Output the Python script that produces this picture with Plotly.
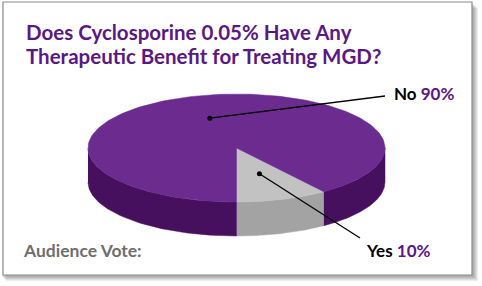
import numpy as np
import plotly.graph_objects as go

# ---------------- data ----------------
categories = ["Yes", "No"]
values = [10, 90]
pct_labels = ["10%", "90%"]
title_lines = ["Does Cyclosporine 0.05% Have Any",
               "Therapeutic Benefit for Treating MGD?"]
footer_text = "Audience Vote:"

# ---------------- styles ----------------
W, H = 482, 286
PURPLE_TXT = "#5a1786"
top_colors = {"Yes": "#c2c2c2", "No": "#6b2b8f"}
side_colors = {"Yes": "#a3a3a3", "No": "#47105f"}
FONT = "Lato"

# pie geometry (pixel space)
CX, CY, RA, RB, DEPTH = 236.5, 148, 148.5, 54, 34
dot_r = {"Yes": 0.5, "No": 0.58}
label_end = {"No": (385, 96), "Yes": (360, 238)}
label_pos = {"No": (392, 93), "Yes": (364, 250)}


def pt(phi_deg, r=1.0):
    p = np.radians(phi_deg)
    return CX + RA * r * np.sin(p), CY + RB * r * np.cos(p)


fig = go.Figure()

total = float(sum(values))
slices = []
start = 0.0
for cat, v in zip(categories, values):
    span = v / total * 360.0
    slices.append((cat, start, start + span))
    start += span

# side walls (front half only)
for cat, a0, a1 in slices:
    for f0, f1 in [(-90, 90), (270, 450)]:
        s, e = max(a0, f0), min(a1, f1)
        if e <= s:
            continue
        ph = np.linspace(s, e, 80)
        xs, ys = pt(ph)
        px = np.concatenate([xs, xs[::-1]])
        py = np.concatenate([ys, (ys + DEPTH)[::-1]])
        fig.add_trace(go.Scatter(x=px, y=py, mode="lines", fill="toself",
                                 fillcolor=side_colors[cat],
                                 line=dict(color=side_colors[cat], width=0.5),
                                 hoverinfo="skip", showlegend=False))

# top faces
for cat, a0, a1 in slices:
    ph = np.linspace(a0, a1, 200)
    xs, ys = pt(ph)
    px = np.concatenate([[CX], xs, [CX]])
    py = np.concatenate([[CY], ys, [CY]])
    fig.add_trace(go.Scatter(x=px, y=py, mode="lines", fill="toself",
                             fillcolor=top_colors[cat],
                             line=dict(color=top_colors[cat], width=0.5),
                             hoverinfo="skip", showlegend=False))

# leader lines + labels
for (cat, a0, a1), pct in zip(slices, pct_labels):
    mid = (a0 + a1) / 2
    dx, dy = pt(mid, dot_r[cat])
    ex, ey = label_end[cat]
    fig.add_trace(go.Scatter(x=[dx, ex], y=[dy, ey], mode="lines",
                             line=dict(color="black", width=1.3),
                             hoverinfo="skip", showlegend=False))
    fig.add_trace(go.Scatter(x=[dx], y=[dy], mode="markers",
                             marker=dict(color="black", size=5),
                             hoverinfo="skip", showlegend=False))
    lx, ly = label_pos[cat]
    fig.add_annotation(x=lx, y=ly, xref="x", yref="y", xanchor="left",
                       yanchor="middle", showarrow=False,
                       text=f"<b>{cat} <span style='color:{PURPLE_TXT}'>{pct}</span></b>",
                       font=dict(family=FONT, size=17, color="black"))

# title
for i, line in enumerate(title_lines):
    fig.add_annotation(x=24, y=32 + 24 * i, xref="x", yref="y",
                       xanchor="left", yanchor="middle", showarrow=False,
                       text=f"<b>{line}</b>",
                       font=dict(family=FONT, size=20.5, color=PURPLE_TXT))

fig.add_annotation(x=21, y=250, xref="x", yref="y", xanchor="left",
                   yanchor="middle", showarrow=False,
                   text=f"<b>{footer_text}</b>",
                   font=dict(family=FONT, size=17.5, color="#6e6e6e"))

# frame with soft shadow
shapes = []
for off in [6, 5, 4, 3, 2]:
    shapes.append(dict(type="rect", xref="x", yref="y", layer="below",
                       x0=3 + off - 3, y0=2 + off, x1=472 + off, y1=275 + off,
                       line=dict(width=0), fillcolor="rgba(0,0,0,0.07)"))
shapes.append(dict(type="rect", xref="x", yref="y", layer="below",
                   x0=3, y0=2, x1=472, y1=275,
                   line=dict(color="#8c8c8c", width=1.2), fillcolor="white"))

fig.update_layout(
    width=W, height=H, margin=dict(l=0, r=0, t=0, b=0),
    paper_bgcolor="white", plot_bgcolor="white",
    xaxis=dict(range=[0, W], visible=False, fixedrange=True),
    yaxis=dict(range=[H, 0], visible=False, fixedrange=True),
    shapes=shapes, showlegend=False,
)

fig.write_html("out.html")
